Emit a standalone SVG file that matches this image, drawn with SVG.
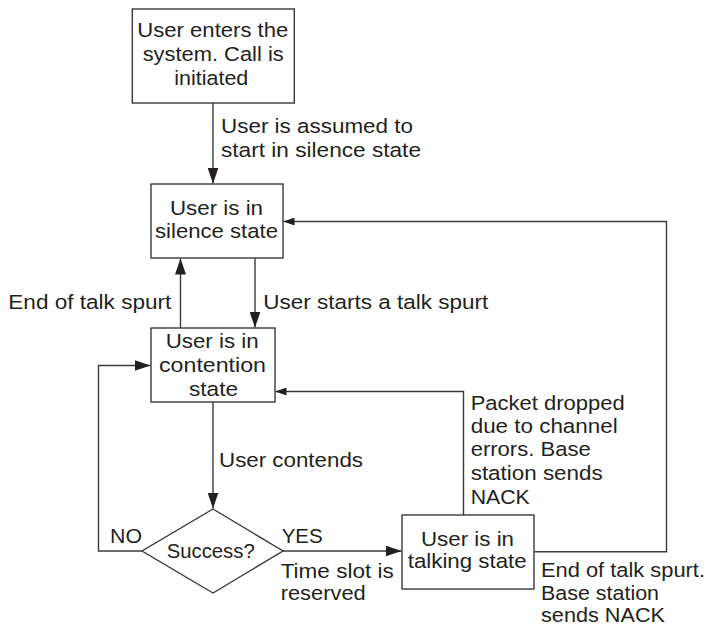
<svg xmlns="http://www.w3.org/2000/svg" width="712" height="626" viewBox="0 0 712 626">
<style>
.box{fill:#fff;stroke:#3a3a3a;stroke-width:1.4}
.ln{fill:none;stroke:#3a3a3a;stroke-width:1.4}
text{font-family:"Liberation Sans",Arial,sans-serif;font-size:20.5px;fill:#231f20}
</style>
<defs>
<marker id="big" markerUnits="userSpaceOnUse" markerWidth="16" markerHeight="11" refX="16" refY="5.5" orient="auto"><path d="M0,0 L16,5.5 L0,11 z" fill="#231f20"/></marker>
<marker id="small" markerUnits="userSpaceOnUse" markerWidth="11" markerHeight="8" refX="11" refY="4" orient="auto"><path d="M0,0 L11,4 L0,8 z" fill="#231f20"/></marker>
</defs>
<rect width="712" height="626" fill="#fff"/>
<g id="connectors">
<path class="ln" d="M213,103 V183.5" marker-end="url(#big)"/>
<path class="ln" d="M255,258 V327.5" marker-end="url(#big)"/>
<path class="ln" d="M180.5,328 V258.5" marker-end="url(#big)"/>
<path class="ln" d="M213,402 V508.5" marker-end="url(#big)"/>
<path class="ln" d="M142,551 H98.5 V365.5 H150.5" marker-end="url(#big)"/>
<path class="ln" d="M283,551 H401.5" marker-end="url(#big)"/>
<path class="ln" d="M463.5,515 V391.5 H275.5" marker-end="url(#small)"/>
<path class="ln" d="M534,551.7 H666.5 V221.5 H283.5" marker-end="url(#small)"/>
<g id="edge-labels">
<text x="221" y="133" textLength="192" lengthAdjust="spacingAndGlyphs">User is assumed to</text>
<text x="221" y="157" textLength="200" lengthAdjust="spacingAndGlyphs">start in silence state</text>
<text x="8.3" y="309" textLength="163" lengthAdjust="spacingAndGlyphs">End of talk spurt</text>
<text x="263.3" y="309" textLength="225" lengthAdjust="spacingAndGlyphs">User starts a talk spurt</text>
<text x="219" y="467" textLength="144" lengthAdjust="spacingAndGlyphs">User contends</text>
<text x="110" y="543" textLength="32" lengthAdjust="spacingAndGlyphs">NO</text>
<text x="281.7" y="543" textLength="41" lengthAdjust="spacingAndGlyphs">YES</text>
<text x="280.7" y="577.7" textLength="113" lengthAdjust="spacingAndGlyphs">Time slot is</text>
<text x="280.7" y="600" textLength="85" lengthAdjust="spacingAndGlyphs">reserved</text>
<text x="470.7" y="410" textLength="154" lengthAdjust="spacingAndGlyphs">Packet dropped</text>
<text x="470.7" y="433" textLength="147" lengthAdjust="spacingAndGlyphs">due to channel</text>
<text x="470.7" y="456" textLength="120" lengthAdjust="spacingAndGlyphs">errors. Base</text>
<text x="470.7" y="480" textLength="132" lengthAdjust="spacingAndGlyphs">station sends</text>
<text x="470.7" y="504" textLength="59" lengthAdjust="spacingAndGlyphs">NACK</text>
<text x="541" y="577" textLength="164" lengthAdjust="spacingAndGlyphs">End of talk spurt.</text>
<text x="541" y="600" textLength="118" lengthAdjust="spacingAndGlyphs">Base station</text>
<text x="541" y="622" textLength="124" lengthAdjust="spacingAndGlyphs">sends NACK</text>
</g>
</g>
<g id="start">
<rect class="box" x="132.3" y="9" width="162" height="94"/>
<text x="137.3" y="37" textLength="151" lengthAdjust="spacingAndGlyphs">User enters the</text>
<text x="142.7" y="61" textLength="141" lengthAdjust="spacingAndGlyphs">system. Call is</text>
<text x="174.3" y="85" textLength="74" lengthAdjust="spacingAndGlyphs">initiated</text>
</g>
<g id="silence">
<rect class="box" x="151" y="184" width="132" height="74"/>
<text x="170" y="215" textLength="93" lengthAdjust="spacingAndGlyphs">User is in</text>
<text x="155" y="238" textLength="123" lengthAdjust="spacingAndGlyphs">silence state</text>
</g>
<g id="contention">
<rect class="box" x="151" y="328" width="124" height="74"/>
<text x="165.7" y="347.5" textLength="93" lengthAdjust="spacingAndGlyphs">User is in</text>
<text x="159" y="371.5" textLength="107" lengthAdjust="spacingAndGlyphs">contention</text>
<text x="189" y="395.5" textLength="49" lengthAdjust="spacingAndGlyphs">state</text>
</g>
<g id="success">
<polygon class="box" points="213,509 283,551 213,593 142,551"/>
<text x="166.7" y="557.7" textLength="88" lengthAdjust="spacingAndGlyphs">Success?</text>
</g>
<g id="talking">
<rect class="box" x="402" y="515" width="132" height="74"/>
<text x="421" y="546" textLength="93" lengthAdjust="spacingAndGlyphs">User is in</text>
<text x="407.7" y="568.3" textLength="119" lengthAdjust="spacingAndGlyphs">talking state</text>
</g>
</svg>
